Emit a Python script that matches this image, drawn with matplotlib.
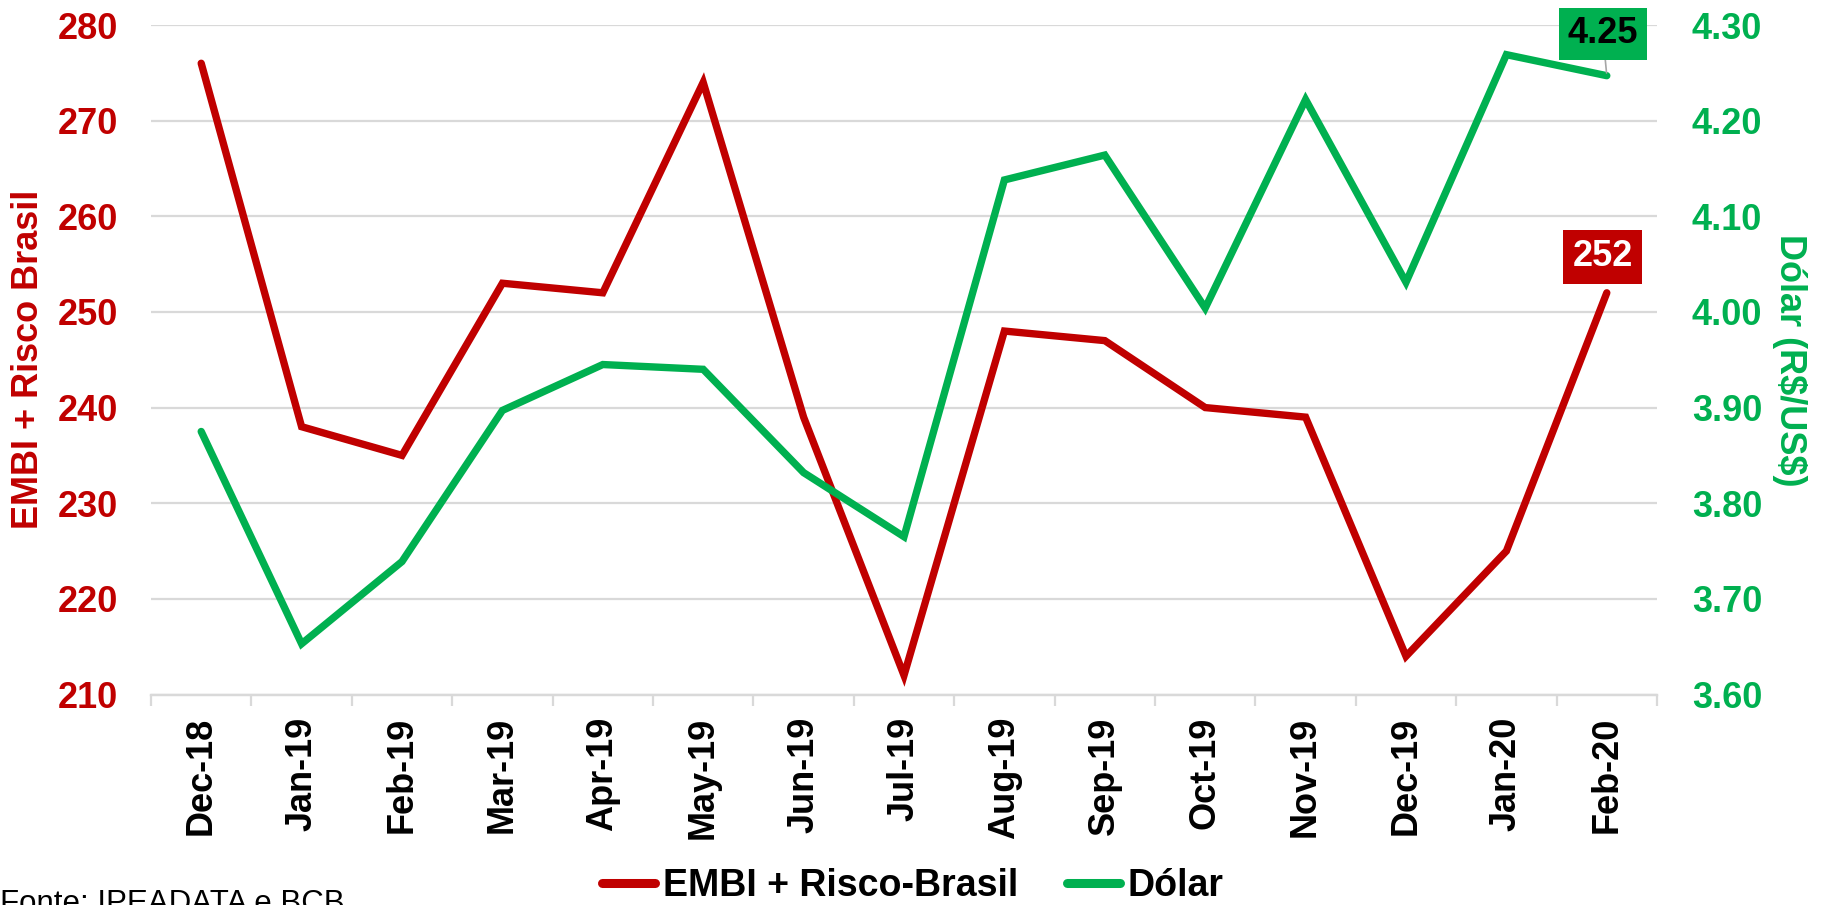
import matplotlib
matplotlib.use("Agg")
import matplotlib.pyplot as plt
import numpy as np

plt.rcParams['font.family'] = ['Liberation Sans', 'DejaVu Sans']

categories = ["Dec-18", "Jan-19", "Feb-19", "Mar-19", "Apr-19", "May-19", "Jun-19",
              "Jul-19", "Aug-19", "Sep-19", "Oct-19", "Nov-19", "Dec-19", "Jan-20", "Feb-20"]
embi = [276, 238, 235, 253, 252, 274, 239, 212, 248, 247, 240, 239, 214, 225, 252]
dolar = [3.875, 3.653, 3.739, 3.897, 3.945, 3.940, 3.832, 3.765, 4.138, 4.164,
         4.004, 4.222, 4.031, 4.269, 4.247]
left_ticks = [210, 220, 230, 240, 250, 260, 270, 280]
right_ticks = [3.60, 3.70, 3.80, 3.90, 4.00, 4.10, 4.20, 4.30]

RED = "#C00000"
GREEN = "#00B050"
GRID = "#D9D9D9"
FS = 26
LW = 5.3

W, H = 1821, 905
fig = plt.figure(figsize=(W / 100, H / 100), dpi=100)
ax = fig.add_axes([151 / W, 1 - 694.5 / H, (1657 - 151) / W, (694.5 - 25) / H])
ax2 = ax.twinx()

x = np.arange(len(categories))
l1, = ax.plot(x, embi, color=RED, lw=LW, solid_capstyle='round',
              solid_joinstyle='miter', label="EMBI + Risco-Brasil", zorder=3)
l2, = ax2.plot(x, dolar, color=GREEN, lw=LW, solid_capstyle='round',
               solid_joinstyle='miter', label="Dólar", zorder=3)

ax.set_xlim(-0.5, len(categories) - 0.5)
ax.set_ylim(210, 280)
ax2.set_ylim(3.60, 4.30)
ax.set_yticks(left_ticks)
ax2.set_yticks(right_ticks)
ax2.set_yticklabels([f"{v:.2f}" for v in right_ticks])

ax.grid(axis='y', color=GRID, lw=1.6)
ax.set_axisbelow(True)

for a in (ax, ax2):
    for s in ("top", "left", "right"):
        a.spines[s].set_visible(False)
    a.spines["bottom"].set_color(GRID)
    a.spines["bottom"].set_linewidth(1.6)

# x ticks: boundaries as major ticks, labels on minor ticks at centers
ax.set_xticks(np.arange(-0.5, len(categories), 1.0))
ax.set_xticklabels([])
ax.tick_params(axis='x', which='major', length=8, width=1.6, color=GRID, direction='out')
ax.set_xticks(x, minor=True)
ax.set_xticklabels(categories, minor=True, rotation=90, fontsize=FS,
                   fontweight='bold', color='black')
ax.tick_params(axis='x', which='minor', length=0, pad=16)

ax.tick_params(axis='y', length=0, pad=24, labelsize=FS, labelcolor=RED)
for t in ax.get_yticklabels():
    t.set_fontweight('bold')
ax2.tick_params(axis='y', length=0, pad=25, labelsize=FS, labelcolor=GREEN)
for t in ax2.get_yticklabels():
    t.set_fontweight('bold')

ax.set_ylabel("EMBI + Risco Brasil", fontsize=FS, fontweight='bold', color=RED, labelpad=8)
ax2.set_ylabel(r"Dólar (R\$/US\$)", fontsize=FS, fontweight='bold', color=GREEN,
               rotation=270, labelpad=32)

# data labels for last points
ax.annotate(f"{embi[-1]}", xy=(x[-1], embi[-1]), xytext=(-4, 36),
            textcoords='offset pixels', ha='center', va='center',
            fontsize=FS, fontweight='bold', color='white', zorder=5,
            bbox=dict(boxstyle='square,pad=0.26', fc=RED, ec='none'))
ax2.annotate(f"{dolar[-1]:.2f}", xy=(x[-1], dolar[-1]), xytext=(-4, 42),
             textcoords='offset pixels', ha='center', va='center',
             fontsize=FS, fontweight='bold', color='black', zorder=5,
             bbox=dict(boxstyle='square,pad=0.24', fc=GREEN, ec='none'),
             arrowprops=dict(arrowstyle='-', color='#A6A6A6', lw=1.2,
                             shrinkA=0, shrinkB=2))

leg = fig.legend(handles=[l1, l2], loc='center', bbox_to_anchor=(913 / W, 1 - 886 / H),
                 ncol=2, frameon=False, prop={'size': 27, 'weight': 'bold'},
                 handlelength=1.4, handletextpad=0.22, columnspacing=1.3,
                 borderpad=0.1)
for h in leg.legend_handles:
    h.set_linewidth(6.5)

fig.text(0.0, 1 - 912 / H, "Fonte: IPEADATA e BCB", fontsize=22.5, color='black',
         ha='left', va='baseline')

fig.savefig("out.png", dpi=100)
